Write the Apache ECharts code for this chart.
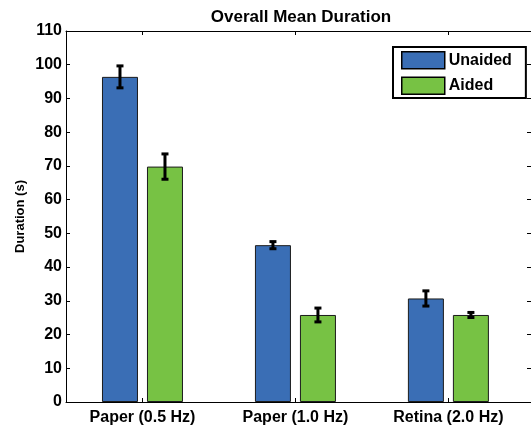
<!DOCTYPE html>
<html>
<head>
<meta charset="utf-8">
<script src="https://cdn.jsdelivr.net/npm/echarts@6/dist/echarts.min.js"></script>
<style>
    html, body { margin: 0; padding: 0; background: #fff; }
    #chart { width: 531px; height: 429px; }
</style>
</head>
<body>
<div id="chart"></div>
<script>
var categories = ['Paper (0.5 Hz)', 'Paper (1.0 Hz)', 'Retina (2.0 Hz)'];
var catPos = [1, 2, 3];
var unaided = [96.4, 46.5, 30.7];
var unaidedErr = [3.4, 1.2, 2.4];
var aided = [69.8, 25.8, 25.8];
var aidedErr = [3.9, 2.2, 0.9];
var yTicks = [0, 10, 20, 30, 40, 50, 60, 70, 80, 90, 100, 110];

var BAR_W = 36, BAR_GAP = 9;
var FONT = '"Liberation Sans", Arial, sans-serif';

var pairs = function (vals) {
    return vals.map(function (v, i) { return [catPos[i], v]; });
};
var errData = function (vals, errs) {
    return vals.map(function (v, i) { return [catPos[i], v - errs[i], v + errs[i]]; });
};
// 误差线
var errRender = function (shift) {
    return function (params, api) {
        var lo = api.coord([api.value(0), api.value(1)]);
        var hi = api.coord([api.value(0), api.value(2)]);
        var x = lo[0] + shift;
        var capW = 7, capH = 3;
        var style = { fill: '#000', stroke: null };
        return {
            type: 'group',
            children: [
                { type: 'rect', shape: { x: x - 1.5, y: hi[1], width: 3, height: lo[1] - hi[1] }, style: style },
                { type: 'rect', shape: { x: x - capW / 2, y: hi[1] - 1, width: capW, height: capH }, style: style },
                { type: 'rect', shape: { x: x - capW / 2, y: lo[1] - capH + 1, width: capW, height: capH }, style: style }
            ]
        };
    };
};

var shift = (BAR_W + BAR_GAP) / 2;
var myChart = echarts.init(document.getElementById('chart'));
myChart.setOption({
    animation: false,
    title: {
        text: 'Overall Mean Duration',
        left: 296,
        textAlign: 'center',
        top: 4,
        textStyle: { fontFamily: FONT, fontSize: 17, fontWeight: 'bold', color: '#000' }
    },
    grid: { left: 66, right: -3, top: 31, bottom: 27, containLabel: false },
    legend: {
        orient: 'vertical',
        left: 393,
        top: 47,
        padding: [4, 14, 3, 8],
        itemGap: 7,
        itemWidth: 43,
        itemHeight: 17,
        borderColor: '#000',
        borderWidth: 2,
        backgroundColor: '#fff',
        icon: 'rect',
        itemStyle: { borderColor: '#000', borderWidth: 1.5 },
        textStyle: { fontFamily: FONT, fontSize: 16, fontWeight: 'bold', color: '#000', padding: [0, 0, 0, -1] },
        data: ['Unaided', 'Aided']
    },
    xAxis: [{
        type: 'value',
        min: 0.5,
        max: 3.54,
        splitLine: { show: false },
        axisLine: { show: true, onZero: false, lineStyle: { color: '#000', width: 1 } },
        axisTick: { show: true, inside: true, length: 4, customValues: catPos, lineStyle: { color: '#000' } },
        axisLabel: {
            customValues: catPos,
            margin: 8,
            fontFamily: FONT, fontSize: 16, fontWeight: 'bold', color: '#000',
            formatter: function (v) { return categories[Math.round(v) - 1]; }
        }
    }, {
        type: 'value',
        position: 'top',
        min: 0.5,
        max: 3.54,
        splitLine: { show: false },
        axisLine: { show: true, onZero: false, lineStyle: { color: '#000', width: 1 } },
        axisTick: { show: true, inside: true, length: 4, customValues: catPos, lineStyle: { color: '#000' } },
        axisLabel: { show: false }
    }],
    yAxis: [{
        type: 'value',
        min: 0,
        max: 110,
        interval: 10,
        name: 'Duration (s)',
        nameLocation: 'middle',
        nameGap: 39,
        nameMoveOverlap: false,
        nameTextStyle: { fontFamily: FONT, fontSize: 13, fontWeight: 'bold', color: '#000' },
        splitLine: { show: false },
        axisLine: { show: true, lineStyle: { color: '#000', width: 1 } },
        axisTick: { show: true, inside: true, length: 4, lineStyle: { color: '#000' } },
        axisLabel: {
            margin: 4,
            fontFamily: FONT, fontSize: 16, fontWeight: 'bold', color: '#000',
            formatter: function (v) { return yTicks.indexOf(v) >= 0 ? String(v) : ''; }
        }
    }, {
        type: 'value',
        position: 'right',
        min: 0,
        max: 110,
        interval: 10,
        splitLine: { show: false },
        axisLine: { show: true, lineStyle: { color: '#000', width: 1 } },
        axisTick: { show: true, inside: true, length: 4, lineStyle: { color: '#000' } },
        axisLabel: { show: false }
    }],
    series: [
        {
            name: 'Unaided',
            type: 'bar',
            barWidth: BAR_W,
            barGap: (BAR_GAP / BAR_W * 100) + '%',
            itemStyle: { color: '#3a6eb5', borderColor: '#1c1c1c', borderWidth: 1 },
            data: pairs(unaided)
        },
        {
            name: 'Aided',
            type: 'bar',
            barWidth: BAR_W,
            itemStyle: { color: '#77c244', borderColor: '#1c1c1c', borderWidth: 1 },
            data: pairs(aided)
        },
        {
            type: 'custom',
            renderItem: errRender(-shift),
            encode: { x: 0, y: [1, 2] },
            z: 10,
            data: errData(unaided, unaidedErr)
        },
        {
            type: 'custom',
            renderItem: errRender(shift),
            encode: { x: 0, y: [1, 2] },
            z: 10,
            data: errData(aided, aidedErr)
        }
    ]
});
</script>
</body>
</html>
